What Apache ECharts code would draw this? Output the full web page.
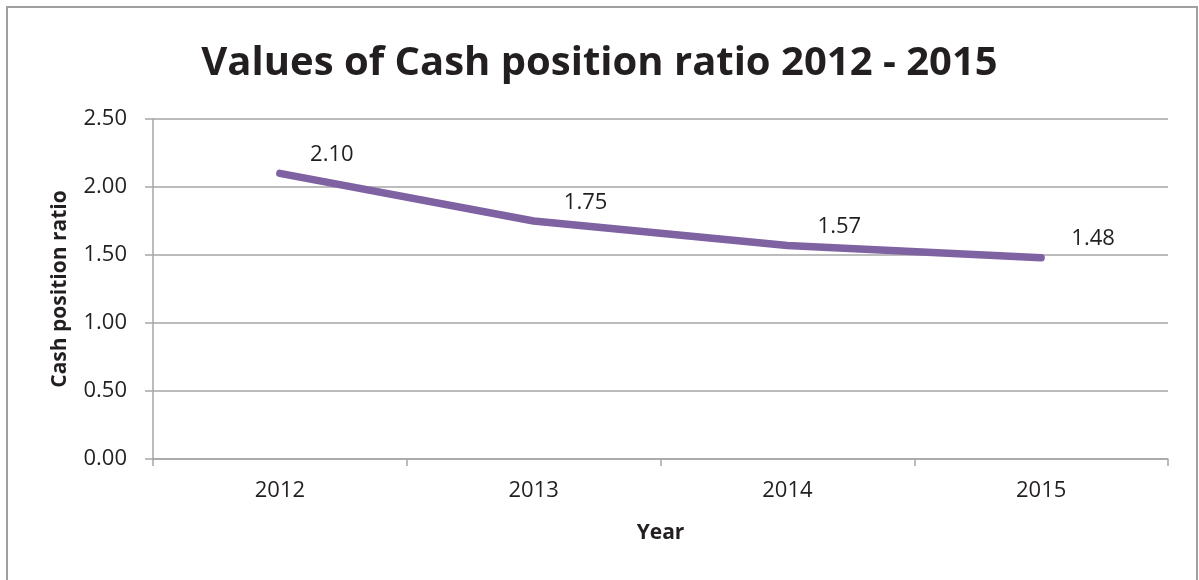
<!DOCTYPE html>
<html>
<head>
<meta charset="utf-8">
<script src="https://cdn.jsdelivr.net/npm/echarts@6/dist/echarts.min.js"></script>
<style>
  html, body { margin: 0; padding: 0; background: #fff; }
  #chart { width: 1199px; height: 580px; }
</style>
</head>
<body>
<div id="chart"></div>
<script>
// Cash position ratio by year
const years = ['2012', '2013', '2014', '2015'];
const cashRatio = [2.10, 1.75, 1.57, 1.48];
const yTicks = { min: 0, max: 2.5, interval: 0.5 };

const FONT = 'Open Sans';
const GRID_COLOR = '#A6A6A6';
const LINE_COLOR = '#7F62A2';
const TEXT_COLOR = '#231F20';

const chart = echarts.init(document.getElementById('chart'), null, { renderer: 'canvas' });

chart.setOption({
  animation: false,
  backgroundColor: '#ffffff',
  textStyle: { fontFamily: FONT },
  title: {
    text: 'Values of Cash position ratio 2012 - 2015',
    left: 'center',
    top: 39,
    textStyle: { fontFamily: FONT, fontWeight: 'bold', fontSize: 40, color: TEXT_COLOR }
  },
  graphic: [{
    type: 'rect',
    shape: { x: 7, y: 7, width: 1190, height: 620 },
    style: { fill: 'none', stroke: '#A0A0A0', lineWidth: 2 },
    silent: true
  }],
  grid: { left: 153, right: 31, top: 119, bottom: 121 },
  xAxis: {
    type: 'category',
    data: years,
    boundaryGap: true,
    name: 'Year',
    nameLocation: 'middle',
    nameGap: 64,
    nameTextStyle: { fontFamily: FONT, fontWeight: 'bold', fontSize: 21, color: TEXT_COLOR },
    axisLine: { lineStyle: { color: GRID_COLOR, width: 1.5 } },
    axisTick: { show: true, alignWithLabel: false, length: 7, lineStyle: { color: GRID_COLOR, width: 1.5 } },
    axisLabel: { fontFamily: FONT, fontSize: 22, color: TEXT_COLOR, margin: 21 },
    splitLine: { show: false }
  },
  yAxis: {
    type: 'value',
    min: yTicks.min,
    max: yTicks.max,
    interval: yTicks.interval,
    name: 'Cash position ratio',
    nameLocation: 'middle',
    nameGap: 82,
    nameTextStyle: { fontFamily: FONT, fontWeight: 'bold', fontSize: 21, color: TEXT_COLOR },
    axisLine: { show: true, lineStyle: { color: GRID_COLOR, width: 1.5 } },
    axisTick: { show: true, length: 8, lineStyle: { color: GRID_COLOR, width: 1.5 } },
    axisLabel: {
      fontFamily: FONT, fontSize: 22, color: TEXT_COLOR, margin: 26,
      formatter: v => v.toFixed(2)
    },
    splitLine: { show: true, lineStyle: { color: GRID_COLOR, width: 1.5 } }
  },
  series: [{
    type: 'line',
    data: cashRatio,
    symbol: 'circle',
    symbolSize: 1,
    showSymbol: true,
    itemStyle: { color: LINE_COLOR },
    smooth: false,
    lineStyle: { color: LINE_COLOR, width: 7.5, cap: 'round', join: 'round' },
    label: {
      show: true,
      position: 'top',
      offset: [52, -2],
      fontFamily: FONT,
      fontSize: 22,
      color: TEXT_COLOR,
      formatter: p => p.value.toFixed(2)
    }
  }]
});
</script>
</body>
</html>
